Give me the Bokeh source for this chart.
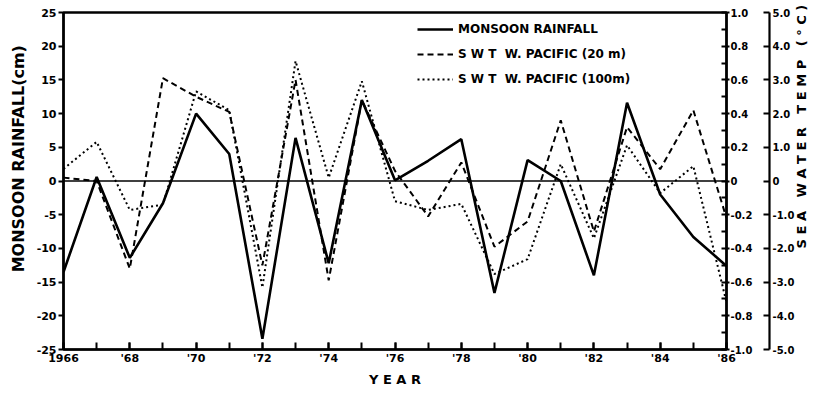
import math
from bokeh.plotting import figure
from bokeh.models import Range1d, LinearAxis, FixedTicker, Span, Legend, LegendItem
from bokeh.embed import file_html
from bokeh.resources import INLINE

# ---------------- data ----------------
years = list(range(1966, 1987))
# Monsoon rainfall anomaly (cm), left axis
rainfall = [-13.5, 0.6, -11.4, -3.3, 10.0, 4.0, -23.4, 6.4, -12.2, 12.0, 0.1,
            3.0, 6.2, -16.6, 3.1, 0.0, -14.0, 11.6, -2.0, -8.3, -12.6]
# Sea water temperature anomaly, W. Pacific 20 m (deg C, inner right axis)
swt_20m = [0.02, 0.0, -0.52, 0.61, 0.50, 0.41, -0.50, 0.60, -0.59, 0.48, 0.06,
           -0.21, 0.11, -0.39, -0.24, 0.36, -0.30, 0.32, 0.07, 0.42, -0.22]
# Sea water temperature anomaly, W. Pacific 100 m (deg C, outer right axis)
swt_100m = [0.36, 1.16, -0.86, -0.70, 2.66, 2.10, -3.16, 3.56, 0.10, 2.96, -0.60,
            -0.86, -0.68, -2.76, -2.32, 0.50, -1.70, 1.06, -0.36, 0.44, -3.60]

x_ticks = [1966, 1968, 1970, 1972, 1974, 1976, 1978, 1980, 1982, 1984, 1986]
x_tick_labels = ["1966", "'68", "'70", "'72", "'74", "'76", "'78", "'80", "'82", "'84", "'86"]
rain_ticks = [-25, -20, -15, -10, -5, 0, 5, 10, 15, 20, 25]
t20_ticks = [-1.0, -0.8, -0.6, -0.4, -0.2, 0.0, 0.2, 0.4, 0.6, 0.8, 1.0]
t20_labels = ["-1.0", "-0.8", "-0.6", "-0.4", "-0.2", "0", "0.2", "0.4", "0.6", "0.8", "1.0"]
t20_minor = [-0.9, -0.7, -0.5, -0.3, -0.1, 0.1, 0.3, 0.5, 0.7, 0.9]
t100_ticks = [-5.0, -4.0, -3.0, -2.0, -1.0, 0.0, 1.0, 2.0, 3.0, 4.0, 5.0]
t100_labels = ["-5.0", "-4.0", "-3.0", "-2.0", "-1.0", "0", "1.0", "2.0", "3.0", "4.0", "5.0"]

legend_labels = ["MONSOON RAINFALL", "S W T  W. PACIFIC (20 m)", "S W T  W. PACIFIC (100m)"]
NB = "\u00a0"
left_title = "MONSOON RAINFALL(cm)"
right_title = "S E A" + NB * 3 + "W A T E R" + NB * 3 + "T E M P" + NB * 3 + "( ° C )"
x_title = "Y E A R"
right_title_pos = -2.0   # where the right-hand title sits, on the outer (deg C) scale

FONT = "DejaVu Sans"

# ---------------- figure ----------------
p = figure(width=820, height=390, output_backend="svg", toolbar_location=None,
           x_range=Range1d(1966, 1986), y_range=Range1d(-25, 25),
           min_border_left=63, min_border_right=94, min_border_top=12, min_border_bottom=41)
p.extra_y_ranges = {"t20": Range1d(-1, 1), "t100": Range1d(-5, 5)}

p.xgrid.visible = False
p.ygrid.visible = False
p.outline_line_color = "black"
p.outline_line_width = 2.5
p.background_fill_color = "white"
p.border_fill_color = "white"

p.add_layout(Span(location=0, dimension="width", line_color="black", line_width=1.6))

r_rain = p.line(years, rainfall, line_color="black", line_width=2.6)
r_20 = p.line(years, swt_20m, y_range_name="t20", line_color="black",
              line_width=2.0, line_dash="6 4")
r_100 = p.line(years, swt_100m, y_range_name="t100", line_color="black",
               line_width=2.0, line_dash="2 3")

# bottom axis
xa = p.xaxis[0]
xa.ticker = FixedTicker(ticks=x_ticks, minor_ticks=years)
xa.major_label_overrides = dict(zip(x_ticks, x_tick_labels))
xa.axis_label = x_title
xa.major_tick_in = 7
xa.major_tick_out = 0
xa.minor_tick_in = 7
xa.minor_tick_out = 0
xa.major_label_standoff = 2
xa.axis_label_standoff = 4

# left axis
ya = p.yaxis[0]
ya.ticker = FixedTicker(ticks=rain_ticks)
ya.major_label_overrides = {t: str(t) for t in rain_ticks}
ya.axis_label = NB * 8 + left_title
ya.major_tick_in = 0
ya.major_tick_out = 5
ya.minor_tick_in = 0
ya.minor_tick_out = 0
ya.major_label_standoff = 2
ya.axis_label_standoff = 6

# inner right axis (20 m)
ax1 = LinearAxis(y_range_name="t20",
                 ticker=FixedTicker(ticks=t20_ticks, minor_ticks=t20_minor),
                 major_label_overrides=dict(zip(t20_ticks, t20_labels)))
ax1.major_tick_in = 5
ax1.major_tick_out = 3
ax1.minor_tick_in = 5
ax1.minor_tick_out = 0
ax1.major_label_standoff = 1
ax1.axis_label = NB
ax1.axis_label_text_font_size = "8px"
ax1.axis_label_standoff = 2

# outer right axis (100 m)
ax2 = LinearAxis(y_range_name="t100", ticker=FixedTicker(ticks=t100_ticks),
                 major_label_overrides=dict(zip(t100_ticks, t100_labels)))
ax2.major_tick_in = 6
ax2.major_tick_out = 0
ax2.minor_tick_in = 0
ax2.minor_tick_out = 0
ax2.major_label_standoff = 3

# title of the temperature scales (reads bottom to top, like the original)
ax3 = LinearAxis(y_range_name="t100", ticker=FixedTicker(ticks=[right_title_pos]),
                 major_label_overrides={right_title_pos: right_title},
                 major_label_orientation=math.pi / 2)
ax3.major_tick_in = 0
ax3.major_tick_out = 0
ax3.minor_tick_in = 0
ax3.minor_tick_out = 0
ax3.major_label_standoff = 4

p.add_layout(ax1, "right")
p.add_layout(ax2, "right")
p.add_layout(ax3, "right")

for ax in [xa, ya, ax1, ax2, ax3]:
    ax.axis_line_color = "black"
    ax.axis_line_width = 2.2
    ax.major_tick_line_color = "black"
    ax.major_tick_line_width = 2
    ax.minor_tick_line_color = "black"
    ax.minor_tick_line_width = 2
    ax.major_label_text_color = "black"
    ax.major_label_text_font = FONT
    ax.major_label_text_font_style = "bold"
    ax.axis_label_text_color = "black"
    ax.axis_label_text_font = FONT
    ax.axis_label_text_font_style = "bold"
ax3.axis_line_alpha = 0

xa.major_label_text_font_size = "11px"
ya.major_label_text_font_size = "11px"
ax1.major_label_text_font_size = "10px"
ax2.major_label_text_font_size = "10px"
ax3.major_label_text_font_size = "13px"
xa.axis_label_text_font_size = "13px"
ya.axis_label_text_font_size = "16px"

legend = Legend(items=[LegendItem(label=legend_labels[0], renderers=[r_rain]),
                       LegendItem(label=legend_labels[1], renderers=[r_20]),
                       LegendItem(label=legend_labels[2], renderers=[r_100])],
                location=(354, 260))
legend.padding = 0
legend.margin = 0
legend.spacing = 5
legend.glyph_width = 36
legend.glyph_height = 20
legend.label_height = 20
legend.label_standoff = 5
legend.border_line_alpha = 0
legend.background_fill_alpha = 0
legend.label_text_font = FONT
legend.label_text_font_style = "bold"
legend.label_text_font_size = "12px"
legend.label_text_color = "black"
p.add_layout(legend, "center")

open("out.html", "w").write(file_html(p, INLINE))
